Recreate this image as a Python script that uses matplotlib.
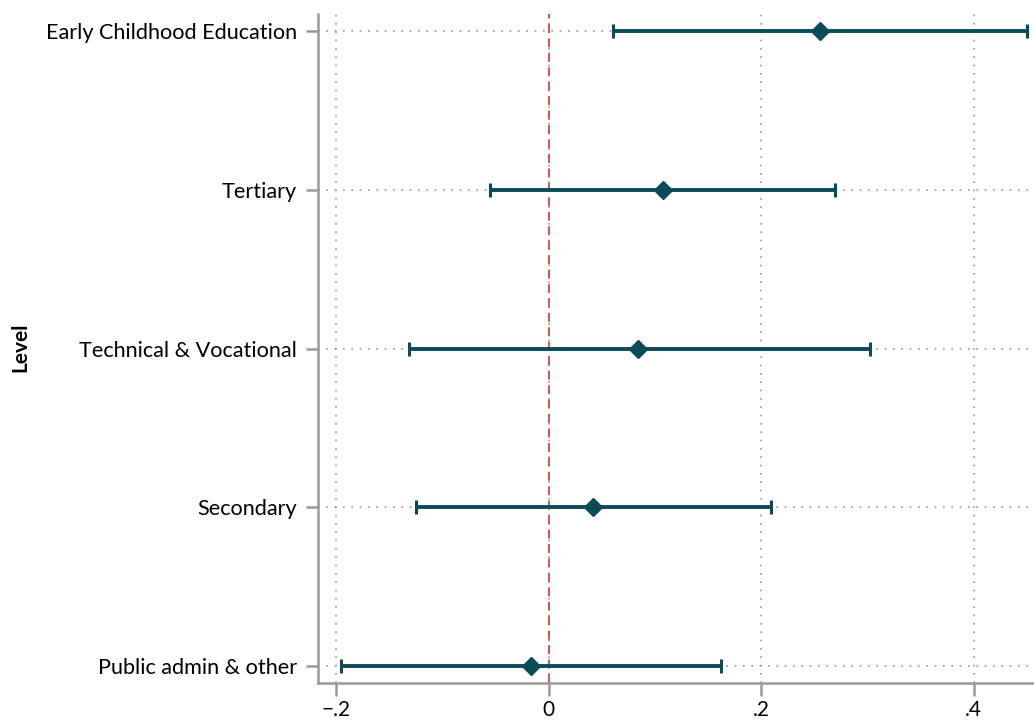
import matplotlib.pyplot as plt
import matplotlib.ticker as mticker
import numpy as np

# Coefficient estimates with 95% CIs, ordered bottom to top
categories = ['Public admin & other', 'Secondary', 'Technical & Vocational',
              'Tertiary', 'Early Childhood Education']
estimates = [-0.017, 0.042, 0.084, 0.107, 0.255]
ci_low = [-0.196, -0.125, -0.132, -0.055, 0.060]
ci_high = [0.162, 0.209, 0.302, 0.269, 0.450]

x_ticks = [-0.2, 0, 0.2, 0.4]
x_tick_labels = ['\u2212.2', '0', '.2', '.4']

plt.rcParams['font.family'] = ['Lato', 'DejaVu Sans']

fig = plt.figure(figsize=(10.34, 7.23), dpi=100)
ax = fig.add_axes([0.3075, 0.0553, 0.6925, 0.9253])

dark = '#0b4b58'
grey = '#9a9a9a'
y = np.arange(len(categories))
est = np.array(estimates)
lo = np.array(ci_low)
hi = np.array(ci_high)

# grid lines
for xt in x_ticks:
    ax.axvline(xt, color=grey, linestyle=(0, (1, 4)), linewidth=1.2, zorder=0)
for yy in y:
    ax.axhline(yy, color=grey, linestyle=(0, (1, 4)), linewidth=1.2, zorder=0)

ax.axvline(0, color='#d0494a', linestyle=(0, (5, 3)), linewidth=1.3, zorder=1)

ax.errorbar(est, y, xerr=[est - lo, hi - est], fmt='D', color=dark,
            ecolor=dark, elinewidth=2.8, capsize=5, capthick=2.2,
            markersize=9, zorder=3)

ax.set_xlim(-0.2173, 0.4566)
ax.set_ylim(-0.107, 4.107)
ax.set_xticks(x_ticks)
ax.xaxis.set_major_formatter(mticker.FixedFormatter(x_tick_labels))
ax.set_yticks(y)
ax.set_yticklabels(categories)

for side in ['top', 'right']:
    ax.spines[side].set_visible(False)
for side in ['left', 'bottom']:
    ax.spines[side].set_color(grey)
    ax.spines[side].set_linewidth(1.8)

ax.tick_params(axis='x', length=9, width=1.8, color=grey, labelsize=15, pad=3)
ax.tick_params(axis='y', length=9, width=1.8, color=grey, labelsize=15.6, pad=6)

fig.text(0.02, 0.52, 'Level', rotation=90, fontsize=15, fontweight='bold',
         ha='center', va='center')

fig.savefig('out.png', dpi=100, facecolor='white')
